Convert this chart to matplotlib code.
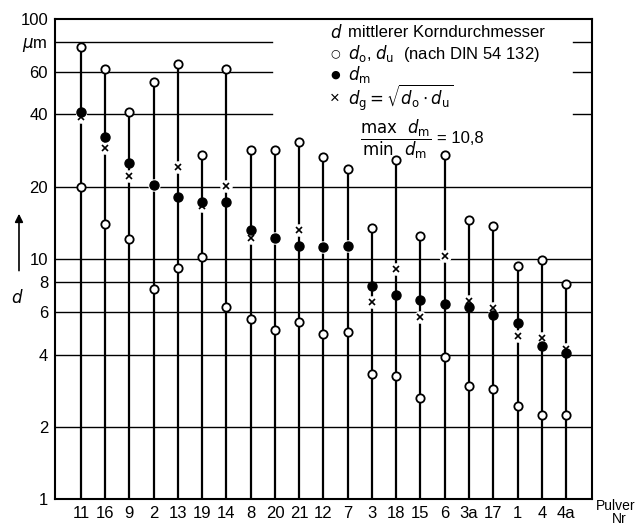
import numpy as np
import matplotlib
matplotlib.use("Agg")
import matplotlib.pyplot as plt
from matplotlib import font_manager

# Pulver-Nr. in der Reihenfolge der Abszisse
pulver = ["11", "16", "9", "2", "13", "19", "14", "8", "20", "21", "12",
          "7", "3", "18", "15", "6", "3a", "17", "1", "4", "4a"]
# obere / untere Grenze d_o, d_u (offene Kreise) in µm
d_o = [76.7, 61.9, 41.0, 54.6, 64.9, 27.1, 62.1, 28.5, 28.5, 30.6, 26.7,
       23.6, 13.4, 25.8, 12.5, 27.0, 14.6, 13.7, 9.35, 9.88, 7.84]
d_u = [20.0, 14.0, 12.1, 7.5, 9.17, 10.2, 6.33, 5.62, 5.06, 5.46, 4.88,
       4.98, 3.32, 3.25, 2.63, 3.89, 2.97, 2.86, 2.45, 2.24, 2.24]
# mittlerer Korndurchmesser d_m (gefuellte Punkte)
d_m = [41.1, 32.2, 25.1, 20.3, 18.1, 17.2, 17.2, 13.2, 12.2, 11.3, 11.26,
       11.3, 7.7, 7.06, 6.73, 6.51, 6.31, 5.83, 5.43, 4.34, 4.07]
# geometrisches Mittel d_g (Kreuze)
d_g = [39.0, 29.0, 22.2, 20.3, 24.2, 16.7, 20.2, 12.2, 12.2, 13.2, 11.26,
       11.3, 6.62, 9.12, 5.75, 10.3, 6.66, 6.25, 4.78, 4.7, 4.22]

y_ticks = [1, 2, 4, 6, 8, 10, 20, 40, 60, 80, 100]
y_ticklabels = ["1", "2", "4", "6", "8", "10", "20", "40", "60", r"$\mu$m", "100"]

# schmale Schrift, falls vorhanden
names = {f.name for f in font_manager.fontManager.ttflist}
fams = [f for f in ["Liberation Sans Narrow", "Liberation Sans"] if f in names]
plt.rcParams["font.family"] = fams + ["DejaVu Sans"]
plt.rcParams["mathtext.fontset"] = "dejavusans"

fig = plt.figure(figsize=(6.37, 5.26), dpi=100)
ax = fig.add_axes([0.0863, 0.0513, 0.8430, 0.9126])
x = np.arange(len(pulver))

ax.set_yscale("log")
ax.set_ylim(1, 100)
ax.set_xlim(-1.07, len(pulver) - 1 + 1.07)

# Gitterlinien (40, 60, 80 vom Legendenfeld unterbrochen)
for v in [2, 4, 6, 8, 10, 20]:
    ax.axhline(v, color="black", lw=1.0, zorder=1)
for v in [40, 60, 80]:
    ax.axhline(v, xmin=0, xmax=0.404, color="black", lw=1.0, zorder=1)
    ax.axhline(v, xmin=0.965, xmax=1, color="black", lw=1.0, zorder=1)

# senkrechte Linien von d_o bis zur Abszisse
ax.vlines(x, 1, d_o, color="black", lw=1.6, zorder=2)

# Marker
ax.plot(x, d_g, ls="none", marker="o", ms=8, mfc="white", mec="white", zorder=3)
ax.plot(x, d_o, ls="none", marker="o", ms=6, mfc="white", mec="black", mew=1.3, zorder=4)
ax.plot(x, d_u, ls="none", marker="o", ms=6, mfc="white", mec="black", mew=1.3, zorder=4)
ax.plot(x, d_m, ls="none", marker="o", ms=6.5, mfc="black", mec="black", zorder=4)
ax.plot(x, d_g, ls="none", marker="x", ms=5, mec="black", mew=1.2, zorder=5)

ax.set_yticks(y_ticks)
ax.set_yticklabels(y_ticklabels, fontsize=12)
ax.minorticks_off()
ax.set_xticks(x)
ax.set_xticklabels(pulver, fontsize=12)
ax.tick_params(length=0, pad=5)

for s in ax.spines.values():
    s.set_linewidth(1.5)

# Achsenbezeichnung links mit Pfeil
ax.annotate("", xy=(-0.067, 0.60), xytext=(-0.067, 0.47), xycoords="axes fraction",
            arrowprops=dict(arrowstyle="-|>", color="black", lw=1.2, mutation_scale=12))
ax.text(-0.07, 0.42, r"$d$", transform=ax.transAxes, fontsize=12,
        ha="center", va="center")

fig.text(0.997, 0.038, "Pulver", fontsize=10, ha="right", va="center")
fig.text(0.984, 0.0, "Nr", fontsize=10, ha="right", va="bottom")

# Legende
fs = 12
lx_sym, lx_txt = 0.512, 0.545
ax.text(lx_sym, 0.972, r"$d$", transform=ax.transAxes, fontsize=fs, va="center")
ax.text(lx_txt, 0.972, "mittlerer Korndurchmesser", transform=ax.transAxes,
        fontsize=fs, va="center")
ax.text(lx_sym, 0.928, "\u25cb", transform=ax.transAxes, fontsize=8, va="center",
        family="DejaVu Sans")
ax.text(lx_txt, 0.928, r"$d_\mathrm{o}$, $d_\mathrm{u}$  (nach DIN 54 132)",
        transform=ax.transAxes, fontsize=fs, va="center")
ax.text(lx_sym, 0.884, "\u25cf", transform=ax.transAxes, fontsize=8, va="center",
        family="DejaVu Sans")
ax.text(lx_txt, 0.884, r"$d_\mathrm{m}$", transform=ax.transAxes, fontsize=fs,
        va="center")
ax.text(lx_sym, 0.835, "\u00d7", transform=ax.transAxes, fontsize=fs, va="center")
ax.text(lx_txt, 0.835, r"$d_\mathrm{g} = \sqrt{d_\mathrm{o} \cdot d_\mathrm{u}}$",
        transform=ax.transAxes, fontsize=fs, va="center")
ax.text(0.568, 0.750,
        r"$\dfrac{\mathrm{max}\ \ d_\mathrm{m}}{\mathrm{min}\ \ d_\mathrm{m}}$",
        transform=ax.transAxes, fontsize=12, va="center")
ax.text(0.712, 0.750, "= 10,8", transform=ax.transAxes, fontsize=12, va="center")

fig.savefig("out.png", dpi=100)
